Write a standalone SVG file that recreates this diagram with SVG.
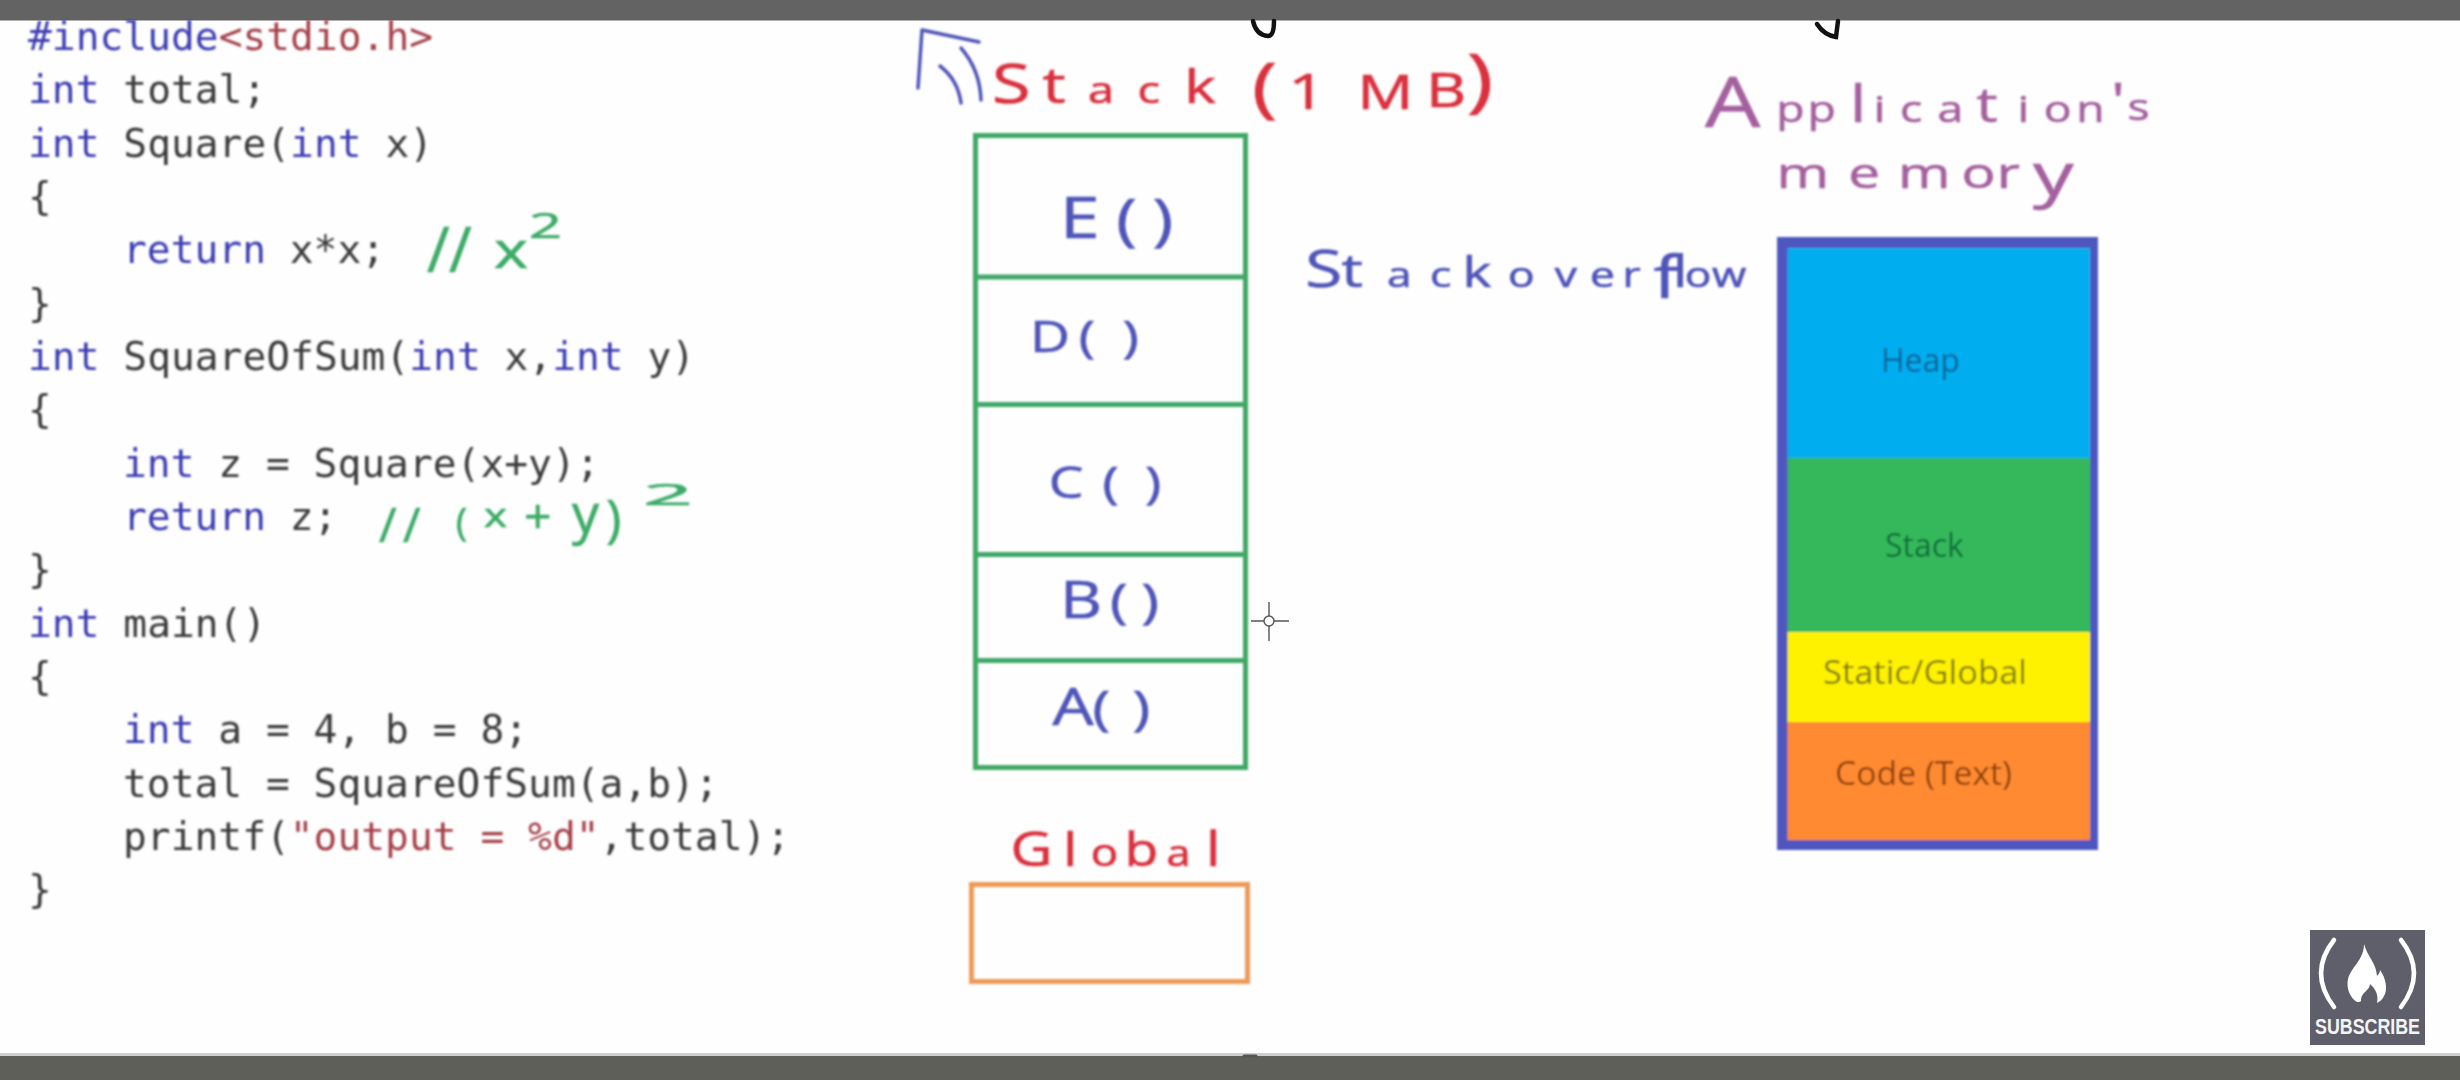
<svg xmlns="http://www.w3.org/2000/svg" width="2460" height="1080" viewBox="0 0 2460 1080">
<style>
.code{font-family:"DejaVu Sans Mono","Liberation Mono",monospace;font-size:39.6px;fill:#3a3a3a}
.k{fill:#3c3cb4}
.s{fill:#a5404a}
.hw{font-family:"Open Sans","Liberation Sans",sans-serif;font-weight:400}
.blue{fill:#4f55b8;stroke:#4f55b8;stroke-width:.7}
.red{fill:#d9303e;stroke:#d9303e;stroke-width:.7}
.purple{fill:#a4609e;stroke:#a4609e;stroke-width:.6}
.green{fill:#3dab68;stroke:#3dab68;stroke-width:.7}
.label{font-family:"Open Sans","Liberation Sans",sans-serif;font-size:32px}
.frame{fill:none;stroke:#3fa866;stroke-width:5}
.ink{fill:none;stroke:#4f55b8;stroke-width:3.5;stroke-linecap:round;stroke-linejoin:round}
.sub{fill:none;stroke:#fff;stroke-width:4.5;stroke-linecap:round}
</style>
<defs><filter id="soft" x="-5%" y="-5%" width="110%" height="110%"><feGaussianBlur stdDeviation="0.8"/></filter></defs>
<rect width="2460" height="1080" fill="#fefefe"/>
<rect id="top-bar" width="2460" height="20.5" fill="#636363"/>
<rect id="bottom-rule" y="1053" width="2460" height="4" fill="#cfcfcf"/>
<rect id="bottom-bar" y="1056" width="2460" height="24" fill="#5f5f59"/>
<g filter="url(#soft)">
<g id="source-code" class="code" xml:space="preserve">
<text x="28" y="50"><tspan class="k">#include</tspan><tspan class="s">&lt;stdio.h&gt;</tspan></text>
<text x="28" y="103"><tspan class="k">int</tspan> total;</text>
<text x="28" y="156.5"><tspan class="k">int</tspan> Square(<tspan class="k">int</tspan> x)</text>
<text x="28" y="210">{</text>
<text x="123" y="263"><tspan class="k">return</tspan> x*x;</text>
<text x="28" y="316.5">}</text>
<text x="28" y="370"><tspan class="k">int</tspan> SquareOfSum(<tspan class="k">int</tspan> x,<tspan class="k">int</tspan> y)</text>
<text x="28" y="423">{</text>
<text x="123" y="476.5"><tspan class="k">int</tspan> z = Square(x+y);</text>
<text x="123" y="530"><tspan class="k">return</tspan> z;</text>
<text x="28" y="583">}</text>
<text x="28" y="636.5"><tspan class="k">int</tspan> main()</text>
<text x="28" y="690">{</text>
<text x="123" y="743"><tspan class="k">int</tspan> a = 4, b = 8;</text>
<text x="123" y="796.5">total = SquareOfSum(a,b);</text>
<text x="123" y="850">printf(<tspan class="s">"output = %d"</tspan>,total);</text>
<text x="28" y="903">}</text>
</g>
<g id="notes" class="hw green">
<text font-size="62" x="427 449" y="272">//</text>
<text font-size="50" x="494" y="268" textLength="34" lengthAdjust="spacingAndGlyphs">x</text>
<text font-size="34" x="529" y="238" textLength="33" lengthAdjust="spacingAndGlyphs">2</text>
<text font-size="48" x="379 403" y="542">//</text>
<text font-size="38" x="456" y="536">(</text>
<text font-size="32" x="484" y="527" textLength="23" lengthAdjust="spacingAndGlyphs">x</text>
<text font-size="48" x="524" y="533">+</text>
<text font-size="54" x="572" y="533">y</text>
<text font-size="52" x="606" y="537">)</text>
<text font-size="30" x="643" y="505" textLength="50" lengthAdjust="spacingAndGlyphs">2</text>
</g>
<g id="stack-title" class="hw red" transform="scale(1.3 1)">
<text y="103"><tspan x="763" font-size="54">S</tspan><tspan x="802" font-size="50">t</tspan><tspan x="837" font-size="36">a</tspan><tspan x="875" font-size="36">c</tspan><tspan x="911" font-size="46">k</tspan><tspan x="963" y="110" font-size="66">(</tspan><tspan x="991" y="109" font-size="50">1</tspan><tspan x="1044" y="109" font-size="48">M</tspan><tspan x="1097" y="107" font-size="48">B</tspan><tspan x="1128" y="104" font-size="70">)</tspan></text>
</g>
<g id="stack">
<rect class="frame" x="975.5" y="135.5" width="270" height="632"/>
<g id="frame-e"><line class="frame" x1="975" y1="277" x2="1246" y2="277"/><text class="hw blue" y="238" transform="scale(1.25 1)"><tspan x="848" font-size="57">E</tspan><tspan x="893" y="240" font-size="56">(</tspan><tspan x="922" y="240" font-size="56">)</tspan></text></g>
<g id="frame-d"><line class="frame" x1="975" y1="404.5" x2="1248" y2="404.5"/><text class="hw blue" y="352" transform="scale(1.25 1)"><tspan x="824" font-size="44">D</tspan><tspan x="863" font-size="44">(</tspan><tspan x="898" font-size="44">)</tspan></text></g>
<g id="frame-c"><line class="frame" x1="975" y1="554.5" x2="1248" y2="554.5"/><text class="hw blue" y="498" transform="scale(1.25 1)"><tspan x="839" font-size="44">C</tspan><tspan x="882" font-size="44">(</tspan><tspan x="916" font-size="44">)</tspan></text></g>
<g id="frame-b"><line class="frame" x1="975" y1="660.5" x2="1248" y2="660.5"/><text class="hw blue" y="618" transform="scale(1.25 1)"><tspan x="848" font-size="52">B</tspan><tspan x="888" font-size="48">(</tspan><tspan x="913" font-size="48">)</tspan></text></g>
<g id="frame-a"><text class="hw blue" y="725" transform="scale(1.25 1)"><tspan x="842" font-size="52">A</tspan><tspan x="874" font-size="48">(</tspan><tspan x="906" font-size="48">)</tspan></text></g>
</g>
<g id="connectors">
<path class="ink" d="M918 88 L922 30 L979 42"/>
<path class="ink" d="M940 66 Q958 80 961 103"/>
<path class="ink" d="M961 48 Q980 70 981 100"/>
</g>
<g id="global">
<text class="hw red" y="866" font-size="48" transform="scale(1.2 1)"><tspan x="842">G</tspan><tspan x="886" font-size="46">l</tspan><tspan x="909" font-size="38">o</tspan><tspan x="937" font-size="46">b</tspan><tspan x="972" font-size="36">a</tspan><tspan x="1005" font-size="48">l</tspan></text>
<rect x="971.5" y="884.5" width="276" height="97" fill="none" stroke="#ee9a58" stroke-width="5"/>
</g>
<g id="stackoverflow">
<text class="hw blue" y="287" font-size="34" transform="scale(1.3 1)"><tspan x="1004" font-size="52">S</tspan><tspan x="1032" font-size="46">t</tspan><tspan x="1067">a</tspan><tspan x="1100">c</tspan><tspan x="1125" font-size="42">k</tspan><tspan x="1160">o</tspan><tspan x="1196">v</tspan><tspan x="1223">e</tspan><tspan x="1248">r</tspan><tspan x="1272" y="298" font-size="58">f</tspan><tspan x="1287" y="287" font-size="44">l</tspan><tspan x="1296">o</tspan><tspan x="1317">w</tspan></text>
</g>
<g id="application-title" class="hw purple">
<text y="122" font-size="37" transform="scale(1.25 1)"><tspan x="1364" y="127" font-size="70">A</tspan><tspan x="1421" y="122">p</tspan><tspan x="1446">p</tspan><tspan x="1480" font-size="52">l</tspan><tspan x="1499">i</tspan><tspan x="1520">c</tspan><tspan x="1550">a</tspan><tspan x="1581" font-size="48">t</tspan><tspan x="1614">i</tspan><tspan x="1635">o</tspan><tspan x="1661">n</tspan><tspan x="1689" y="118" font-size="50">'</tspan><tspan x="1702" y="120">s</tspan></text>
<text y="188" font-size="42" transform="scale(1.35 1)"><tspan x="1316">m</tspan><tspan x="1369">e</tspan><tspan x="1406">m</tspan><tspan x="1453">o</tspan><tspan x="1479">r</tspan><tspan x="1506" y="196" font-size="60">y</tspan></text>
</g>
<g id="memory">
<rect x="1777" y="237" width="321" height="613" fill="#5056bf"/>
<g id="heap"><rect x="1787.5" y="248" width="302.5" height="211" fill="#00aeef"/><text class="label" x="1881" y="372" fill="#0a5f98">Heap</text></g>
<g id="stack-seg"><rect x="1787.5" y="458" width="302.5" height="175" fill="#35b85c"/><text class="label" x="1885" y="557" fill="#0b6c38">Stack</text></g>
<g id="static"><rect x="1787.5" y="632" width="302.5" height="91" fill="#fff200"/><text class="label" x="1823" y="684" fill="#7e7a10" textLength="204" lengthAdjust="spacingAndGlyphs">Static/Global</text></g>
<g id="code"><rect x="1787.5" y="722" width="302.5" height="118" fill="#ff8a33"/><text class="label" x="1835" y="785" fill="#8a4008" textLength="177" lengthAdjust="spacingAndGlyphs">Code (Text)</text></g>
</g>
</g>
<g id="cursor" fill="none" stroke="#555" stroke-width="1.4">
<path d="M1251 621H1264M1274 621H1289M1269 602V616M1269 626V641"/>
<circle cx="1269" cy="621" r="5"/>
</g>
<g id="marks" fill="none" stroke="#111" stroke-width="4.5" stroke-linecap="round">
<path d="M1253 21 Q1256 35 1268 36 Q1274 36 1274 21"/>
<path d="M1817 24 Q1824 35 1836 37 L1838 21"/>
<path d="M1244 1056 H1256" stroke="#555" stroke-width="3"/>
</g>
<g id="subscribe">
<rect x="2310" y="930" width="115" height="115" fill="#5f5f6b"/>
<path class="sub" d="M2334 940 Q2308 973 2334 1007"/>
<path class="sub" d="M2401 940 Q2427 973 2401 1007"/>
<path fill="#fff" d="M2364 944 C2368 958 2376 962 2377 976 C2379 974 2380 972 2380 970 C2386 978 2388 990 2384 996 C2382 1000 2379 1002 2377 1003 C2379 995 2375 988 2370 984 C2370 990 2362 992 2361 999 C2361 1001 2362 1002 2357 1002 C2350 998 2346 988 2348 979 C2351 967 2364 960 2364 944 Z"/>
<text x="2315" y="1034" font-family="Liberation Sans, Arial, sans-serif" font-size="22" font-weight="700" fill="#f4f4f4" textLength="105" lengthAdjust="spacingAndGlyphs">SUBSCRIBE</text>
</g>
</svg>
